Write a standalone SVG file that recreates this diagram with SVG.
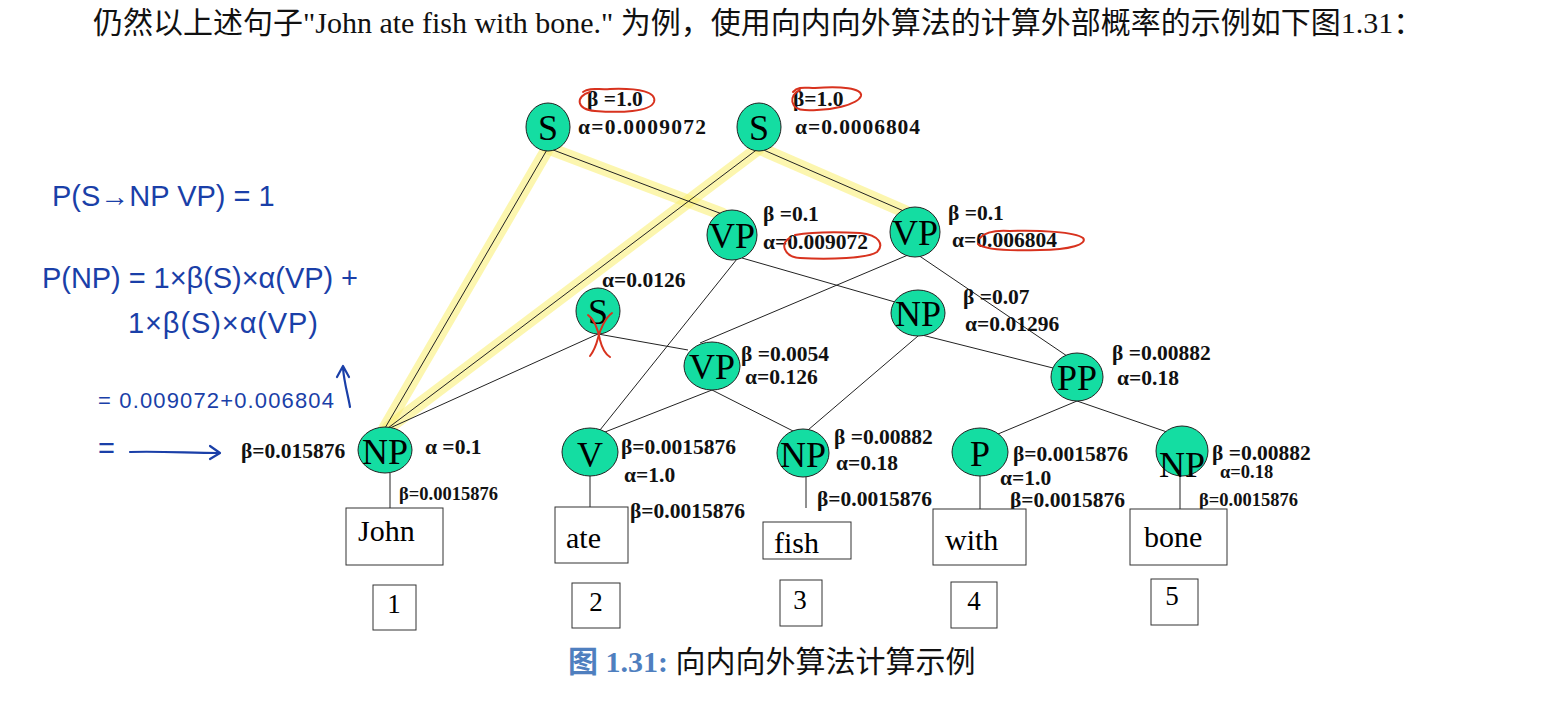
<svg xmlns="http://www.w3.org/2000/svg" width="1542" height="706" viewBox="0 0 1542 706">
<style>
.hdr{font-family:"Liberation Serif","Noto Sans CJK SC",serif;font-size:30px;fill:#111}
.nd{fill:#14DDA2;stroke:#222;stroke-width:1}
.nl{font-family:"Liberation Serif",serif;font-size:36px;fill:#000;text-anchor:middle}
.lb{font-family:"Liberation Serif",serif;font-size:21.5px;font-weight:bold;fill:#111}
.sm{font-size:18.5px}
.wb{fill:#fff;stroke:#333;stroke-width:1}
.wt{font-family:"Liberation Serif",serif;font-size:30px;fill:#000}
.nt{font-family:"Liberation Serif",serif;font-size:27px;fill:#000;text-anchor:middle}
.ln{stroke:#222;stroke-width:1;fill:none}
.hl{stroke:#FAF07A;stroke-opacity:0.6;stroke-width:13;stroke-linecap:round;fill:none}
.red{stroke:#D8321E;stroke-width:2;fill:none;stroke-linecap:round}
.hw{font-family:"Liberation Sans",sans-serif;font-size:29px;fill:#1A3FA8}
.hwl{stroke:#1A3FA8;stroke-width:2.2;fill:none;stroke-linecap:round;stroke-linejoin:round}
.cap{font-family:"Liberation Serif","Noto Sans CJK SC",serif;font-size:30px}
</style>
<rect width="1542" height="706" fill="#fff"/>
<text class="hdr" x="93" y="33">仍然以上述句子"John ate fish with bone." 为例，使用向内向外算法的计算外部概率的示例如下图1.31：</text>

<g id="highlights">
<line class="hl" x1="548" y1="148" x2="385" y2="428"/>
<line class="hl" x1="548" y1="148" x2="722" y2="214"/>
<line class="hl" x1="759" y1="148" x2="388" y2="428"/>
<line class="hl" x1="759" y1="148" x2="906" y2="212"/>
</g>

<g id="connectors">
<line class="ln" x1="548" y1="148" x2="385" y2="428"/>
<line class="ln" x1="548" y1="148" x2="722" y2="214"/>
<line class="ln" x1="759" y1="148" x2="388" y2="428"/>
<line class="ln" x1="759" y1="148" x2="906" y2="212"/>
<line class="ln" x1="737" y1="259" x2="600" y2="430"/>
<line class="ln" x1="742" y1="258" x2="895" y2="302"/>
<line class="ln" x1="908" y1="255" x2="700" y2="343"/>
<line class="ln" x1="918" y1="255" x2="1067" y2="356"/>
<line class="ln" x1="598" y1="334" x2="390" y2="428"/>
<line class="ln" x1="598" y1="334" x2="688" y2="350"/>
<line class="ln" x1="918" y1="336" x2="808" y2="430"/>
<line class="ln" x1="922" y1="335" x2="1053" y2="368"/>
<line class="ln" x1="712" y1="390" x2="605" y2="432"/>
<line class="ln" x1="712" y1="390" x2="795" y2="432"/>
<line class="ln" x1="1077" y1="401" x2="998" y2="434"/>
<line class="ln" x1="1077" y1="401" x2="1167" y2="432"/>
<line class="ln" x1="390" y1="473" x2="390" y2="508"/>
<line class="ln" x1="590" y1="476" x2="590" y2="507"/>
<line class="ln" x1="806" y1="477" x2="806" y2="508"/>
<line class="ln" x1="980" y1="476" x2="980" y2="509"/>
<line class="ln" x1="1180" y1="476" x2="1180" y2="509"/>
</g>

<g id="S1"><ellipse class="nd" cx="548" cy="127" rx="22" ry="24"/><text class="nl" x="548" y="140">S</text>
<text class="lb" x="587" y="106">β =1.0</text><text class="lb" x="578" y="134" textLength="128">α=0.0009072</text></g>
<g id="S2"><ellipse class="nd" cx="759" cy="127" rx="22" ry="24"/><text class="nl" x="759" y="140">S</text>
<text class="lb" x="793" y="106">β=1.0</text><text class="lb" x="795" y="134" textLength="125">α=0.0006804</text></g>
<g id="VP1"><ellipse class="nd" cx="732" cy="235" rx="25" ry="25"/><text class="nl" x="732" y="248">VP</text>
<text class="lb" x="763" y="221">β =0.1</text><text class="lb" x="763" y="249">α=0.009072</text></g>
<g id="VP2"><ellipse class="nd" cx="915" cy="232" rx="25" ry="25"/><text class="nl" x="915" y="245">VP</text>
<text class="lb" x="948" y="220">β =0.1</text><text class="lb" x="952" y="247">α=0.006804</text></g>
<g id="S3"><ellipse class="nd" cx="598" cy="311" rx="22" ry="23"/><text class="nl" x="598" y="324">S</text>
<text class="lb" x="602" y="287">α=0.0126</text></g>
<g id="NPmid"><ellipse class="nd" cx="918" cy="313" rx="27" ry="23"/><text class="nl" x="918" y="326">NP</text>
<text class="lb" x="963" y="304">β =0.07</text><text class="lb" x="965" y="331">α=0.01296</text></g>
<g id="VPmid"><ellipse class="nd" cx="712" cy="366" rx="28" ry="24"/><text class="nl" x="712" y="379">VP</text>
<text class="lb" x="741" y="361">β =0.0054</text><text class="lb" x="745" y="384">α=0.126</text></g>
<g id="PP"><ellipse class="nd" cx="1077" cy="377" rx="26" ry="24"/><text class="nl" x="1077" y="390">PP</text>
<text class="lb" x="1112" y="360">β =0.00882</text><text class="lb" x="1117" y="385">α=0.18</text></g>
<g id="NPjohn"><ellipse class="nd" cx="385" cy="450" rx="27" ry="23"/><text class="nl" x="385" y="464">NP</text>
<text class="lb" x="241" y="458">β=0.015876</text><text class="lb" x="425" y="454">α =0.1</text>
<text class="lb sm" x="399" y="500">β=0.0015876</text></g>
<g id="V"><ellipse class="nd" cx="590" cy="452" rx="28" ry="24"/><text class="nl" x="590" y="467">V</text>
<text class="lb" x="621" y="454">β=0.0015876</text><text class="lb" x="624" y="482">α=1.0</text>
<text class="lb" x="630" y="518">β=0.0015876</text></g>
<g id="NPfish"><ellipse class="nd" cx="803" cy="453" rx="26" ry="24"/><text class="nl" x="803" y="467">NP</text>
<text class="lb" x="834" y="444">β =0.00882</text><text class="lb" x="836" y="470">α=0.18</text>
<text class="lb" x="817" y="506">β=0.0015876</text></g>
<g id="P"><ellipse class="nd" cx="980" cy="452" rx="28" ry="24"/><text class="nl" x="980" y="466">P</text>
<text class="lb" x="1013" y="461">β=0.0015876</text><text class="lb" x="1000" y="485">α=1.0</text>
<text class="lb" x="1010" y="507">β=0.0015876</text></g>
<g id="NPbone"><ellipse class="nd" cx="1182" cy="451" rx="26" ry="25"/><text class="nl" x="1182" y="477">NP</text>
<text class="lb" x="1212" y="460">β =0.00882</text><text class="lb sm" x="1220" y="478">α=0.18</text>
<text class="lb sm" x="1199" y="506">β=0.0015876</text></g>

<g id="words">
<rect class="wb" x="346" y="508" width="97" height="57"/><text class="wt" x="358" y="541">John</text>
<rect class="wb" x="555" y="507" width="73" height="56"/><text class="wt" x="566" y="548">ate</text>
<rect class="wb" x="763" y="522" width="88" height="37"/><text class="wt" x="774" y="553">fish</text>
<rect class="wb" x="933" y="509" width="93" height="56"/><text class="wt" x="945" y="550">with</text>
<rect class="wb" x="1130" y="509" width="97" height="56"/><text class="wt" x="1144" y="547">bone</text>
</g>
<g id="numbers">
<rect class="wb" x="373" y="585" width="43" height="45"/><text class="nt" x="394" y="613">1</text>
<rect class="wb" x="572" y="583" width="48" height="45"/><text class="nt" x="596" y="611">2</text>
<rect class="wb" x="780" y="580" width="42" height="46"/><text class="nt" x="800" y="609">3</text>
<rect class="wb" x="951" y="582" width="46" height="46"/><text class="nt" x="974" y="610">4</text>
<rect class="wb" x="1151" y="579" width="47" height="46"/><text class="nt" x="1172" y="605">5</text>
</g>

<g id="red-marks">
<path class="red" d="M590,92 C575,96 576,110 595,111 C620,113 650,112 654,102 C657,92 640,88 610,89 C598,90 590,87 583,92"/>
<path class="red" d="M800,90 C788,95 790,110 805,110 C830,112 858,104 861,96 C863,88 840,86 815,88 C805,88 798,86 793,92"/>
<path class="red" d="M790,238 C780,242 783,257 800,258 C830,260 868,258 877,252 C884,245 880,235 860,233 C840,232 812,232 795,235"/>
<path class="red" d="M980,238 C985,232 995,230 1010,231 C1040,230 1075,232 1083,238 C1088,244 1070,250 1040,250 C1010,251 985,250 978,244"/>
<path class="red" d="M588,315 C595,320 598,330 600,340 C602,348 605,354 610,357"/>
<path class="red" d="M612,313 C605,318 600,330 598,338 C596,346 593,352 590,356"/>
</g>

<g id="handwriting">
<text class="hw" x="52" y="206">P(S→NP VP) = 1</text>
<text class="hw" x="42" y="288" textLength="316">P(NP) = 1×β(S)×α(VP) +</text>
<text class="hw" x="128" y="333" textLength="190">1×β(S)×α(VP)</text>
<text class="hw" x="98" y="408" style="font-size:22px" textLength="236">= 0.009072+0.006804</text>
<text class="hw" x="98" y="458">=</text>
<path class="hwl" d="M130,452 C160,451 190,453 218,453 M210,446 L220,453 L210,459"/>
<path class="hwl" d="M350,407 C348,395 344,382 343,368 M337,377 L343,366 L349,377"/>
</g>

<g id="caption">
<text class="cap" x="568" y="672"><tspan fill="#4F7FBF" font-weight="bold">图 1.31:</tspan><tspan fill="#111"> 向内向外算法计算示例</tspan></text>
</g>
</svg>
